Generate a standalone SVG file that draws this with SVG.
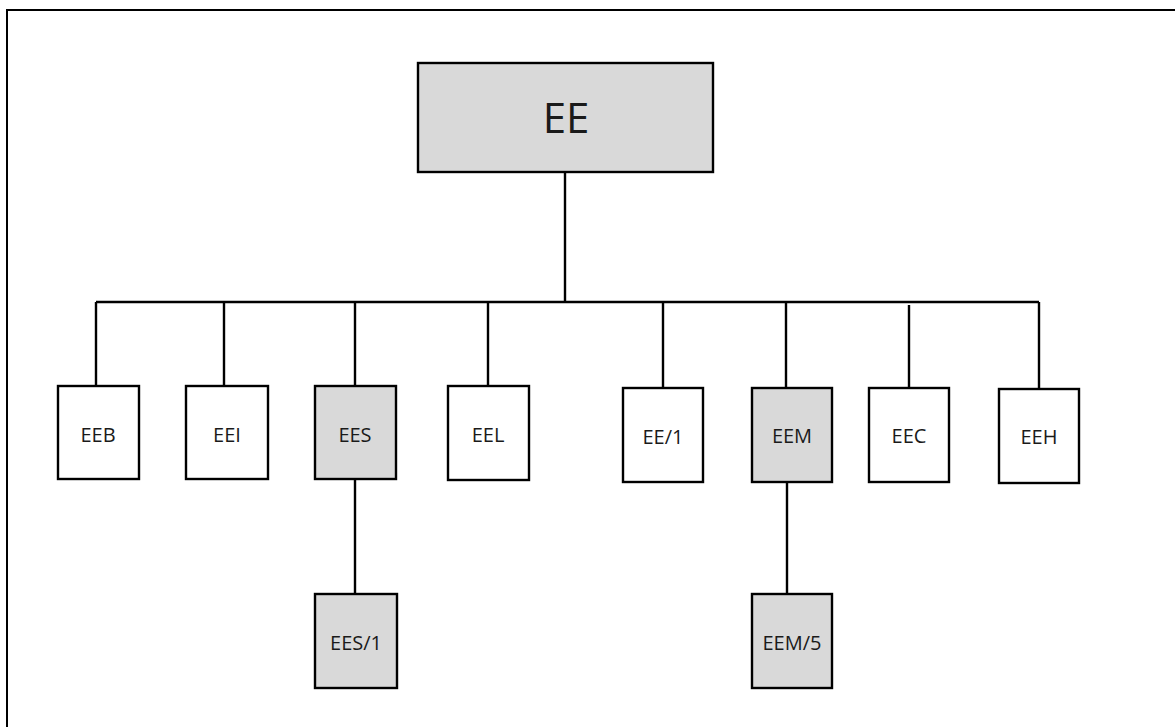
<svg xmlns="http://www.w3.org/2000/svg" width="1175" height="727" viewBox="0 0 1175 727">
<style>
.box{stroke:#000;stroke-width:2.4;fill:#fff}
.g{fill:#d9d9d9}
.t{font-family:"Open Sans","Noto Sans",sans-serif;font-size:20px;fill:#1a1a1a;text-anchor:middle}
.big{font-size:42px}
.ln{stroke:#000;stroke-width:2.4;fill:none}
</style>
<rect x="0" y="0" width="1175" height="727" fill="#fff"/>
<rect x="7" y="10" width="1200" height="760" fill="none" stroke="#000" stroke-width="2"/>
<g id="connectors">
<path class="ln" d="M565 172V302M96 302H1039M96 302V386M224 302V386M355 302V386M488 302V386M663 302V388M786 302V388M909 305V388M1039 302V389M355 479V594M787 482V594"/>
</g>
<g id="EE"><rect class="box g" x="418" y="63" width="295" height="109"/><text class="t big" x="566" y="133">EE</text></g>
<g id="EEB"><rect class="box" x="58" y="386" width="81" height="93"/><text class="t" x="98" y="442">EEB</text></g>
<g id="EEI"><rect class="box" x="186" y="386" width="82" height="93"/><text class="t" x="227" y="442">EEI</text></g>
<g id="EES"><rect class="box g" x="315" y="386" width="81" height="93"/><text class="t" x="355" y="442">EES</text></g>
<g id="EEL"><rect class="box" x="448" y="386" width="81" height="94"/><text class="t" x="488" y="442">EEL</text></g>
<g id="EE1"><rect class="box" x="623" y="388" width="80" height="94"/><text class="t" x="663" y="444">EE/1</text></g>
<g id="EEM"><rect class="box g" x="752" y="388" width="80" height="94"/><text class="t" x="792" y="443">EEM</text></g>
<g id="EEC"><rect class="box" x="869" y="388" width="80" height="94"/><text class="t" x="909" y="443">EEC</text></g>
<g id="EEH"><rect class="box" x="999" y="389" width="80" height="94"/><text class="t" x="1039" y="444">EEH</text></g>
<g id="EES1"><rect class="box g" x="315" y="594" width="82" height="94"/><text class="t" x="356" y="650">EES/1</text></g>
<g id="EEM5"><rect class="box g" x="752" y="594" width="80" height="94"/><text class="t" x="792" y="650">EEM/5</text></g>
</svg>
